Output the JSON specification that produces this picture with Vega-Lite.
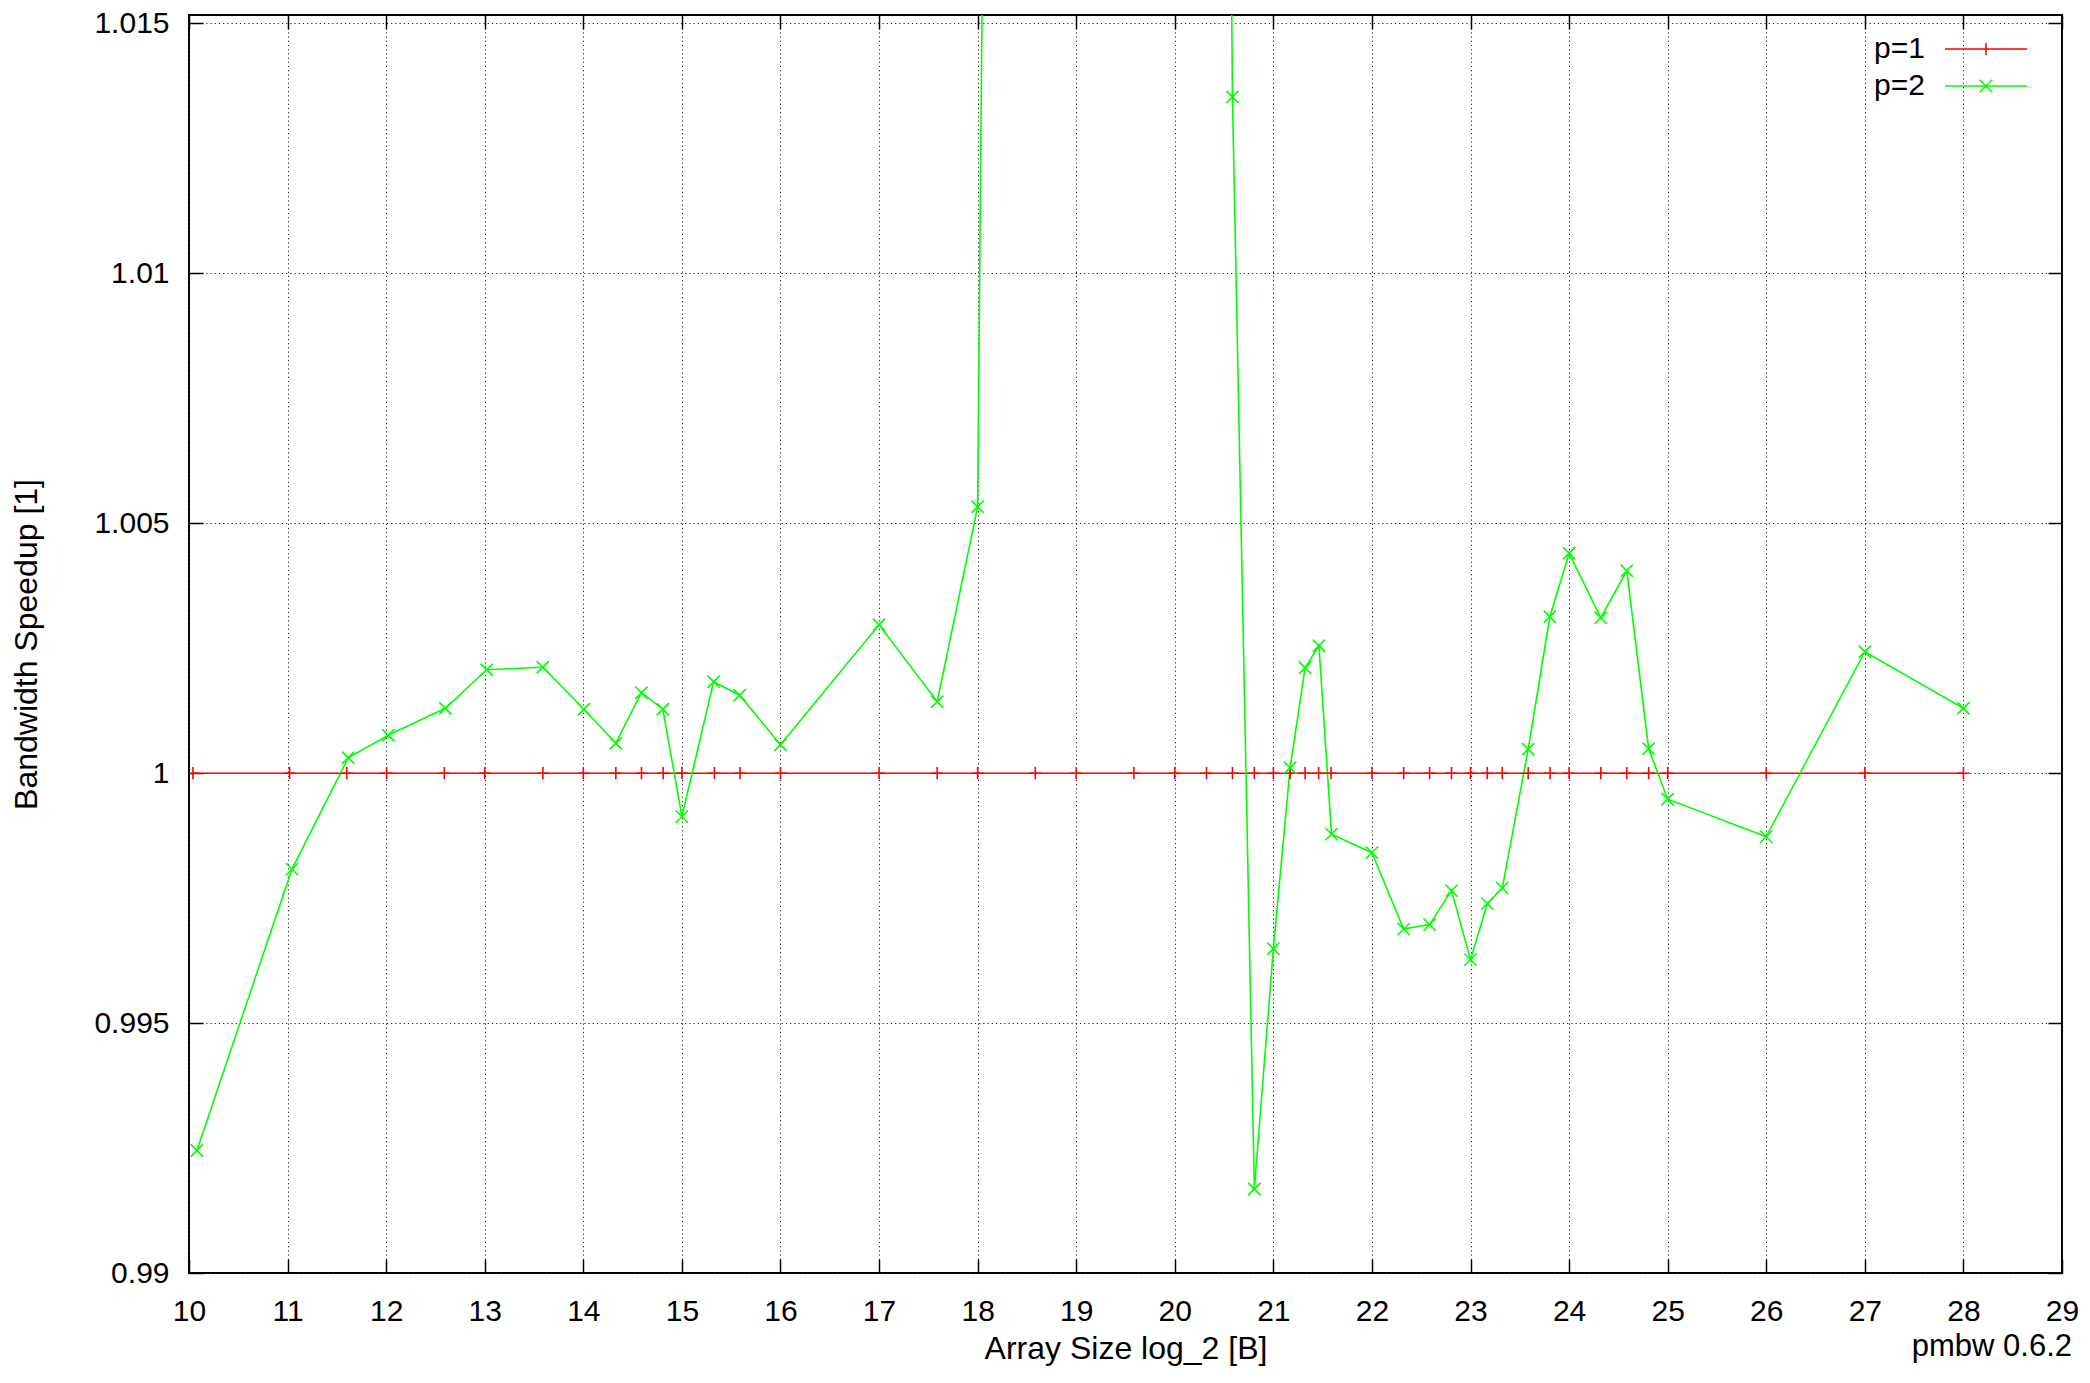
{
  "$schema": "https://vega.github.io/schema/vega-lite/v6.json",
  "width": 1873,
  "height": 1258,
  "autosize": {"type": "none"},
  "padding": {"left": 189, "top": 15, "right": 28, "bottom": 110},
  "background": "white",
  "title": {
    "text": "pmbw 0.6.2",
    "orient": "bottom",
    "anchor": "end",
    "frame": "group",
    "fontSize": 31,
    "fontWeight": "normal",
    "font": "Liberation Sans",
    "color": "black",
    "dx": 10,
    "offset": -32
  },
  "config": {
    "view": {"stroke": "black", "strokeWidth": 2},
    "font": "Liberation Sans"
  },
  "data": {
    "values": [
      {"x": 10.04, "y": 1, "series": "p=1"},
      {"x": 11.02, "y": 1, "series": "p=1"},
      {"x": 11.6, "y": 1, "series": "p=1"},
      {"x": 12.005, "y": 1, "series": "p=1"},
      {"x": 12.59, "y": 1, "series": "p=1"},
      {"x": 13.0, "y": 1, "series": "p=1"},
      {"x": 13.59, "y": 1, "series": "p=1"},
      {"x": 14.0, "y": 1, "series": "p=1"},
      {"x": 14.33, "y": 1, "series": "p=1"},
      {"x": 14.59, "y": 1, "series": "p=1"},
      {"x": 14.81, "y": 1, "series": "p=1"},
      {"x": 15.0, "y": 1, "series": "p=1"},
      {"x": 15.33, "y": 1, "series": "p=1"},
      {"x": 15.59, "y": 1, "series": "p=1"},
      {"x": 16.0, "y": 1, "series": "p=1"},
      {"x": 17.0, "y": 1, "series": "p=1"},
      {"x": 17.59, "y": 1, "series": "p=1"},
      {"x": 18.0, "y": 1, "series": "p=1"},
      {"x": 18.585, "y": 1, "series": "p=1"},
      {"x": 19.0, "y": 1, "series": "p=1"},
      {"x": 19.585, "y": 1, "series": "p=1"},
      {"x": 20.0, "y": 1, "series": "p=1"},
      {"x": 20.322, "y": 1, "series": "p=1"},
      {"x": 20.585, "y": 1, "series": "p=1"},
      {"x": 20.807, "y": 1, "series": "p=1"},
      {"x": 21.0, "y": 1, "series": "p=1"},
      {"x": 21.17, "y": 1, "series": "p=1"},
      {"x": 21.322, "y": 1, "series": "p=1"},
      {"x": 21.459, "y": 1, "series": "p=1"},
      {"x": 21.585, "y": 1, "series": "p=1"},
      {"x": 22.0, "y": 1, "series": "p=1"},
      {"x": 22.322, "y": 1, "series": "p=1"},
      {"x": 22.585, "y": 1, "series": "p=1"},
      {"x": 22.807, "y": 1, "series": "p=1"},
      {"x": 23.0, "y": 1, "series": "p=1"},
      {"x": 23.17, "y": 1, "series": "p=1"},
      {"x": 23.322, "y": 1, "series": "p=1"},
      {"x": 23.585, "y": 1, "series": "p=1"},
      {"x": 23.807, "y": 1, "series": "p=1"},
      {"x": 24.0, "y": 1, "series": "p=1"},
      {"x": 24.322, "y": 1, "series": "p=1"},
      {"x": 24.585, "y": 1, "series": "p=1"},
      {"x": 24.807, "y": 1, "series": "p=1"},
      {"x": 25.0, "y": 1, "series": "p=1"},
      {"x": 26.0, "y": 1, "series": "p=1"},
      {"x": 27.0, "y": 1, "series": "p=1"},
      {"x": 28.0, "y": 1, "series": "p=1"},
      {"x": 10.08, "y": 0.99245, "series": "p=2"},
      {"x": 11.045, "y": 0.99808, "series": "p=2"},
      {"x": 11.615, "y": 1.00031, "series": "p=2"},
      {"x": 12.022, "y": 1.00076, "series": "p=2"},
      {"x": 12.6, "y": 1.0013, "series": "p=2"},
      {"x": 13.02, "y": 1.00207, "series": "p=2"},
      {"x": 13.59, "y": 1.00212, "series": "p=2"},
      {"x": 14.006, "y": 1.00128, "series": "p=2"},
      {"x": 14.33, "y": 1.0006, "series": "p=2"},
      {"x": 14.59, "y": 1.00161, "series": "p=2"},
      {"x": 14.807, "y": 1.00128, "series": "p=2"},
      {"x": 15.0, "y": 0.99913, "series": "p=2"},
      {"x": 15.322, "y": 1.00183, "series": "p=2"},
      {"x": 15.585, "y": 1.00156, "series": "p=2"},
      {"x": 16.0, "y": 1.00057, "series": "p=2"},
      {"x": 17.0, "y": 1.00297, "series": "p=2"},
      {"x": 17.59, "y": 1.00143, "series": "p=2"},
      {"x": 18.0, "y": 1.00533, "series": "p=2"},
      {"x": 18.585, "y": 1.136, "series": "p=2"},
      {"x": 19.0, "y": 1.15, "series": "p=2"},
      {"x": 19.585, "y": 1.14, "series": "p=2"},
      {"x": 20.0, "y": 1.12, "series": "p=2"},
      {"x": 20.322, "y": 1.076, "series": "p=2"},
      {"x": 20.585, "y": 1.01353, "series": "p=2"},
      {"x": 20.807, "y": 0.99168, "series": "p=2"},
      {"x": 21.0, "y": 0.99649, "series": "p=2"},
      {"x": 21.17, "y": 1.00011, "series": "p=2"},
      {"x": 21.322, "y": 1.00211, "series": "p=2"},
      {"x": 21.462, "y": 1.00255, "series": "p=2"},
      {"x": 21.59, "y": 0.99878, "series": "p=2"},
      {"x": 22.0, "y": 0.99841, "series": "p=2"},
      {"x": 22.322, "y": 0.99688, "series": "p=2"},
      {"x": 22.585, "y": 0.99697, "series": "p=2"},
      {"x": 22.807, "y": 0.99765, "series": "p=2"},
      {"x": 23.0, "y": 0.99627, "series": "p=2"},
      {"x": 23.17, "y": 0.99739, "series": "p=2"},
      {"x": 23.322, "y": 0.9977, "series": "p=2"},
      {"x": 23.585, "y": 1.00048, "series": "p=2"},
      {"x": 23.805, "y": 1.00313, "series": "p=2"},
      {"x": 24.0, "y": 1.0044, "series": "p=2"},
      {"x": 24.322, "y": 1.00311, "series": "p=2"},
      {"x": 24.585, "y": 1.00405, "series": "p=2"},
      {"x": 24.807, "y": 1.00049, "series": "p=2"},
      {"x": 25.0, "y": 0.99948, "series": "p=2"},
      {"x": 26.0, "y": 0.99873, "series": "p=2"},
      {"x": 27.0, "y": 1.00243, "series": "p=2"},
      {"x": 28.0, "y": 1.0013, "series": "p=2"}
    ]
  },
  "layer": [
    {
      "mark": {"type": "line", "clip": true, "strokeWidth": 1.6},
      "encoding": {
        "x": {
          "field": "x", "type": "quantitative",
          "scale": {"domain": [10, 29], "nice": false, "zero": false},
          "axis": {
            "orient": "bottom",
            "title": "Array Size log_2 [B]",
            "values": [10, 11, 12, 13, 14, 15, 16, 17, 18, 19, 20, 21, 22, 23, 24, 25, 26, 27, 28, 29],
            "domain": false,
            "tickSize": -14, "tickColor": "black", "tickWidth": 1.5,
            "labelFontSize": 30, "labelColor": "black", "labelPadding": 37, "labelFlush": false,
            "titleFontSize": 32, "titleFontWeight": "normal", "titleColor": "black", "titlePadding": 7,
            "grid": true, "gridColor": "#222222", "gridOpacity": 1, "gridDash": [1.2, 3], "gridWidth": 1
          }
        },
        "y": {
          "field": "y", "type": "quantitative",
          "scale": {"domain": [0.99, 1.01517], "nice": false, "zero": false},
          "axis": {
            "orient": "left",
            "title": "Bandwidth Speedup [1]",
            "values": [0.99, 0.995, 1, 1.005, 1.01, 1.015],
            "format": "~g",
            "domain": false,
            "tickSize": -14, "tickColor": "black", "tickWidth": 1.5,
            "labelFontSize": 30, "labelColor": "black", "labelPadding": 34, "labelFlush": false,
            "titleFontSize": 32, "titleFontWeight": "normal", "titleColor": "black", "titlePadding": 50,
            "grid": true, "gridColor": "#222222", "gridOpacity": 1, "gridDash": [1.2, 3], "gridWidth": 1
          }
        },
        "color": {
          "field": "series", "type": "nominal",
          "scale": {"domain": ["p=1", "p=2"], "range": ["#ff0000", "#00ff00"]},
          "legend": {
            "title": null,
            "orient": "none",
            "legendX": 1685,
            "legendY": 18,
            "padding": 0,
            "symbolSize": 900,
            "symbolType": "M-2.733,0H2.733",
            "labelOffset": 0,
            "labelFontSize": 30,
            "labelColor": "black",
            "rowPadding": 6,
            "encoding": {
              "symbols": {
                "shape": {
                  "condition": {"test": "datum.value === 'p=1'", "value": "M-2.733,0H2.733M0,-0.4V0.4"},
                  "value": "M-2.733,0H2.733M-0.42,-0.42L0.42,0.42M-0.42,0.42L0.42,-0.42"
                },
                "x": {"value": 112},
                "strokeWidth": {"value": 1.6},
                "fill": {"value": "transparent"}
              },
              "labels": {
                "x": {"value": 0},
                "align": {"value": "left"}
              }
            }
          }
        }
      }
    },
    {
      "transform": [{"filter": "datum.series === 'p=1'"}],
      "mark": {"type": "point", "clip": true, "filled": false, "strokeWidth": 1.6, "size": 150, "opacity": 1, "shape": "M-1,0H1M0,-1V1"},
      "encoding": {
        "x": {"field": "x", "type": "quantitative", "axis": null},
        "y": {"field": "y", "type": "quantitative", "axis": null},
        "color": {"field": "series", "type": "nominal", "legend": null}
      }
    },
    {
      "transform": [{"filter": "datum.series === 'p=2'"}],
      "mark": {"type": "point", "clip": true, "filled": false, "strokeWidth": 1.6, "size": 150, "opacity": 1, "shape": "M-1,-1L1,1M-1,1L1,-1"},
      "encoding": {
        "x": {"field": "x", "type": "quantitative", "axis": null},
        "y": {"field": "y", "type": "quantitative", "axis": null},
        "color": {"field": "series", "type": "nominal", "legend": null}
      }
    },
    {
      "mark": {"type": "point", "opacity": 0},
      "encoding": {
        "x": {
          "field": "x", "type": "quantitative",
          "axis": {
            "orient": "top", "title": null, "labels": false, "grid": false, "domain": false,
            "values": [10, 11, 12, 13, 14, 15, 16, 17, 18, 19, 20, 21, 22, 23, 24, 25, 26, 27, 28, 29],
            "tickSize": -14, "tickColor": "black", "tickWidth": 1.5
          }
        },
        "y": {
          "field": "y", "type": "quantitative",
          "axis": {
            "orient": "right", "title": null, "labels": false, "grid": false, "domain": false,
            "values": [0.99, 0.995, 1, 1.005, 1.01, 1.015],
            "tickSize": -14, "tickColor": "black", "tickWidth": 1.5
          }
        }
      }
    }
  ],
  "resolve": {"axis": {"x": "independent", "y": "independent"}}
}
